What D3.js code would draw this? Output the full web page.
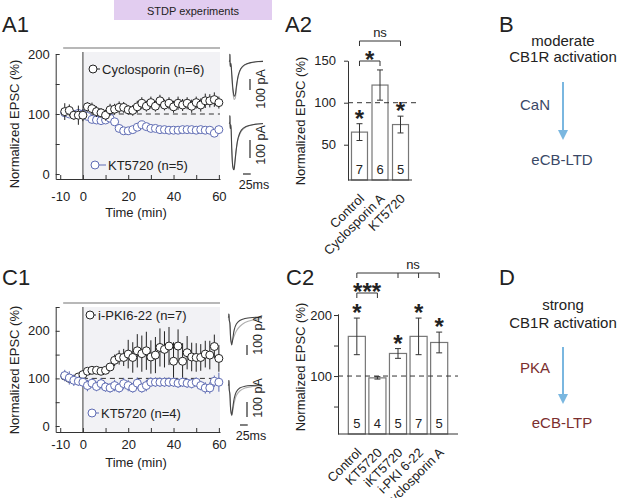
<!DOCTYPE html>
<html>
<head>
<meta charset="utf-8">
<script src="https://cdn.jsdelivr.net/npm/d3@7"></script>
<style>
  body { margin: 0; background: #fff; }
  svg text { font-family: "Liberation Sans", Arial, sans-serif; fill: #222; }
</style>
</head>
<body>
<svg id="fig" width="617" height="498"></svg>
<script>

// ---- data ----
const timeMin = [-8,-6,-4,-2,0,2,4,6,8,10,12,14,16,18,20,22,24,26,28,30,32,34,36,38,40,42,44,46,48,50,52,54,56,58,60];

// A1 time course
const a1Cyclo    = [104,106,98,98,98,112,109,104,102,98,107,108,111,111,107,106,112,118,113,119,113,122,115,118,112,118,115,118,113,119,115,122,122,124,119];
const a1CycloErr = [14,10,8,16,10,8,10,9,8,9,10,9,10,9,8,9,10,10,9,10,9,10,9,10,10,11,10,10,11,10,11,12,11,12,10];
const a1Kt       = [102,100,99,101,100,96,91,90,89,90,93,87,76,72,72,74,78,82,79,76,76,74,74,73,73,73,74,74,74,73,74,73,73,68,74];
const a1KtErr    = [5,4,4,4,4,4,4,5,4,4,4,4,4,4,4,3,4,4,4,3,3,3,3,3,3,3,3,3,3,3,3,3,3,4,4];

// C1 time course
const c1Pki      = [105,100,97,103,108,115,117,117,115,117,124,138,144,144,151,144,158,152,158,145,149,165,161,168,136,168,136,154,145,144,144,151,149,167,142];
const c1PkiErr   = [6,6,6,6,6,6,6,6,6,6,8,12,15,18,30,32,35,38,40,35,38,40,38,40,40,35,38,35,30,30,28,28,30,25,28];
const c1Kt       = [106,101,96,94,92,85,90,83,89,82,80,85,80,89,85,80,90,80,85,92,92,92,92,92,92,90,92,90,89,92,85,80,80,94,92];
const c1KtErr    = [12,14,12,10,10,12,10,10,12,10,10,12,10,12,12,10,12,10,12,10,10,10,10,10,10,10,10,10,10,10,10,12,12,12,20];

const xTicks = [-10,0,10,20,30,40,50,60];
const xTickLabels = [-10,0,20,40,60];

// A2 bars
const a2Cats  = ["Control","Cyclosporin A","KT5720"];
const a2Mean  = [65,121,74];
const a2Err   = [10,18,10];
const a2N     = [7,6,5];
const a2Star  = [true,false,true];

// C2 bars
const c2Cats  = ["Control","KT5720","iKT5720","i-PKI 6-22","Cyclosporin A"];
const c2Mean  = [165,97,137,165,155];
const c2Err   = [30,2,8,30,17];
const c2N     = [5,4,5,7,5];
const c2Star  = [true,false,true,true,true];

// example EPSC traces [ms, pA]
const a1TopBlack = [[0,0],[2,0],[3,60],[4,-50],[6,-20],[9,-120],[13,-260],[17,-320],[20,-310],[24,-230],[30,-130],[38,-70],[50,-35],[70,-15],[95,-5],[110,-3]];
const a1TopGray  = [[0,0],[2,0],[3,60],[4,-50],[6,-20],[9,-140],[13,-290],[17,-350],[20,-340],[24,-250],[30,-140],[38,-75],[50,-38],[70,-16],[95,-6],[110,-3]];
const a1BotBlack = [[0,0],[2,0],[3,40],[4,-30],[6,-10],[9,-150],[13,-250],[16,-260],[19,-220],[24,-140],[30,-80],[40,-40],[55,-20],[80,-8],[110,-3]];
const a1BotGray  = [[0,0],[2,0],[3,40],[4,-30],[6,-10],[9,-140],[13,-240],[16,-250],[19,-215],[24,-140],[30,-85],[40,-45],[55,-22],[80,-9],[110,-4]];
const c1TopBlack = [[0,0],[2,0],[3,30],[4,-30],[6,-60],[9,-230],[12,-280],[15,-230],[20,-130],[27,-70],[38,-35],[55,-15],[80,-5],[110,-2]];
const c1TopGray  = [[0,0],[2,0],[3,30],[4,-30],[6,-60],[9,-220],[12,-260],[15,-230],[20,-190],[27,-140],[38,-95],[55,-55],[80,-30],[110,-15]];
const c1BotBlack = [[0,0],[2,0],[3,30],[4,-30],[6,-60],[9,-170],[12,-200],[15,-160],[20,-90],[27,-45],[38,-20],[55,-8],[80,-3],[110,0]];
const c1BotGray  = [[0,0],[2,0],[3,30],[4,-30],[6,-60],[9,-170],[12,-205],[15,-180],[20,-120],[27,-70],[38,-40],[55,-20],[80,-10],[110,-5]];

const BLUE = "#5f6cb4";
const DARK = "#222";

const svg = d3.select("#fig");

// banner
svg.append("rect").attr("x", 114).attr("y", 0).attr("width", 158).attr("height", 20).attr("fill", "#e2cdf0");
svg.append("text").attr("x", 193).attr("y", 15).attr("text-anchor", "middle")
  .style("font-size", "11px").text("STDP experiments");

// panel letters
[["A1",2,32],["A2",285,32],["B",499,32],["C1",2,285],["C2",286,285],["D",499,285]].forEach(function(p) {
  svg.append("text").attr("x", p[1]).attr("y", p[2]).style("font-size", "22px").text(p[0]);
});

function styleAxis(g) {
  g.selectAll("path,line").attr("stroke", "#333");
  g.selectAll("text").style("font-size", "13px").attr("fill", DARK);
}

function yLabel(x, y) {
  svg.append("text").attr("transform", "translate(" + x + "," + y + ") rotate(-90)")
    .attr("text-anchor", "middle").attr("dy", "0.35em").style("font-size", "13px")
    .text("Normalized EPSC (%)");
}

// ---- time course panels ----
function timePanel(o) {
  const x = d3.scaleLinear().domain([-12, 60.5]).range([55.7, 220]);
  const y = d3.scaleLinear().domain(o.yDom).range(o.yRange);
  const bottom = o.yRange[0];

  svg.append("line").attr("x1", x(-8.7)).attr("x2", x(60.5)).attr("y1", o.barY).attr("y2", o.barY)
    .attr("stroke", "#a0a0a0").attr("stroke-width", 1.5);
  svg.append("rect").attr("x", x(0)).attr("y", o.shadeTop).attr("width", x(60.5) - x(0))
    .attr("height", bottom - o.shadeTop).attr("fill", "#f2f2f5");
  svg.append("line").attr("x1", x(0)).attr("x2", x(0)).attr("y1", o.shadeTop).attr("y2", bottom)
    .attr("stroke", "#666").attr("stroke-width", 1.3);
  svg.append("line").attr("x1", x(0)).attr("x2", x(60.5)).attr("y1", y(100)).attr("y2", y(100))
    .attr("stroke", "#333").attr("stroke-dasharray", "5,4");

  const ya = svg.append("g").attr("transform", "translate(" + x(-12) + ",0)")
    .call(d3.axisLeft(y).tickValues(o.yTicks).tickSize(-4).tickSizeOuter(0).tickPadding(6)
      .tickFormat(function(d) { return o.yLabels.indexOf(d) >= 0 ? d : ""; }));
  styleAxis(ya);
  const xa = svg.append("g").attr("transform", "translate(0," + bottom + ")")
    .call(d3.axisBottom(x).tickValues(xTicks).tickSize(-4).tickSizeOuter(0).tickPadding(o.xPad)
      .tickFormat(function(d) { return xTickLabels.indexOf(d) >= 0 ? d : ""; }));
  styleAxis(xa);

  svg.append("text").attr("x", 136).attr("y", o.timeY).attr("text-anchor", "middle")
    .style("font-size", "13px").text("Time (min)");
  yLabel(14, o.labelY);

  o.series.forEach(function(s) {
    const g = svg.append("g");
    g.selectAll("line").data(s.vals).join("line")
      .attr("x1", function(d, i) { return x(timeMin[i]); })
      .attr("x2", function(d, i) { return x(timeMin[i]); })
      .attr("y1", function(d, i) { return y(d - s.errs[i]); })
      .attr("y2", function(d, i) { return y(d + s.errs[i]); })
      .attr("stroke", s.color).attr("stroke-width", 1);
    g.selectAll("circle").data(s.vals).join("circle")
      .attr("cx", function(d, i) { return x(timeMin[i]); })
      .attr("cy", function(d) { return y(d); })
      .attr("r", 4).attr("fill", "#fff").attr("stroke", s.color).attr("stroke-width", 1);
  });

  o.legend.forEach(function(l) {
    svg.append("line").attr("x1", l.cx).attr("x2", l.tx - 2).attr("y1", l.y).attr("y2", l.y)
      .attr("stroke", l.color);
    svg.append("circle").attr("cx", l.cx).attr("cy", l.y).attr("r", 4)
      .attr("fill", "#fff").attr("stroke", l.color);
    svg.append("text").attr("x", l.tx).attr("y", l.y + 4.5).style("font-size", "13px").text(l.text);
  });
}

timePanel({
  yDom: [-8.3, 200], yRange: [179, 54], yTicks: [0,50,100,150,200], yLabels: [0,100,200],
  barY: 48, shadeTop: 52, xPad: 13, timeY: 217, labelY: 124,
  series: [
    { vals: a1Kt, errs: a1KtErr, color: BLUE },
    { vals: a1Cyclo, errs: a1CycloErr, color: DARK }
  ],
  legend: [
    { cx: 93, tx: 102, y: 69, color: DARK, text: "Cyclosporin (n=6)" },
    { cx: 95, tx: 108, y: 165, color: BLUE, text: "KT5720 (n=5)" }
  ]
});

timePanel({
  yDom: [-12.6, 250], yRange: [432, 307], yTicks: [0,50,100,150,200,250], yLabels: [0,100,200],
  barY: 303, shadeTop: 307, xPad: 8, timeY: 467, labelY: 370,
  series: [
    { vals: c1Pki, errs: c1PkiErr, color: DARK },
    { vals: c1Kt, errs: c1KtErr, color: BLUE }
  ],
  legend: [
    { cx: 90, tx: 98, y: 315, color: DARK, text: "i-PKI6-22 (n=7)" },
    { cx: 92, tx: 101, y: 413, color: BLUE, text: "KT5720 (n=4)" }
  ]
});

// ---- example traces with scale bars ----
function tracePanel(o) {
  const t = d3.scaleLinear().domain([0, 110]).range([o.x0, o.x0 + 34]);
  const amp = d3.scaleLinear().domain([-100, 0]).range([o.y0 + o.px100, o.y0]);
  const line = d3.line().x(function(d) { return t(d[0]); }).y(function(d) { return amp(d[1]); })
    .curve(d3.curveCatmullRom);
  svg.append("path").datum(o.gray).attr("d", line).attr("fill", "none")
    .attr("stroke", "#b0b0b0").attr("stroke-width", 1.1);
  svg.append("path").datum(o.black).attr("d", line).attr("fill", "none")
    .attr("stroke", "#444").attr("stroke-width", 1.1);
  // 100 pA bar
  svg.append("line").attr("x1", o.barX).attr("x2", o.barX).attr("y1", o.barY)
    .attr("y2", o.barY + (amp(-100) - amp(0))).attr("stroke", "#555").attr("stroke-width", 1.5);
  svg.append("text").attr("transform", "translate(" + (o.barX + 11) + "," + o.textY + ") rotate(-90)")
    .attr("text-anchor", "middle").attr("dy", "0.35em").style("font-size", "12.5px").text("100 pA");
  if (o.msY) {
    svg.append("line").attr("x1", o.barX - 7).attr("x2", o.barX - 7 + (t(25) - t(0)))
      .attr("y1", o.msY).attr("y2", o.msY).attr("stroke", "#555").attr("stroke-width", 1.5);
    svg.append("text").attr("x", o.barX + 4).attr("y", o.msY + 15).attr("text-anchor", "middle")
      .style("font-size", "12.5px").text("25ms");
  }
}

tracePanel({ x0: 229, y0: 61, px100: 11, black: a1TopBlack, gray: a1TopGray, barX: 250, barY: 79, textY: 89 });
tracePanel({ x0: 229, y0: 123, px100: 18, black: a1BotBlack, gray: a1BotGray, barX: 250, barY: 140, textY: 145, msY: 174 });
tracePanel({ x0: 228, y0: 317, px100: 10, black: c1TopBlack, gray: c1TopGray, barX: 247, barY: 345, textY: 335 });
tracePanel({ x0: 228, y0: 385, px100: 15, black: c1BotBlack, gray: c1BotGray, barX: 247, barY: 402, textY: 398, msY: 425 });

// ---- bar panels ----
function barPanel(o) {
  const x = d3.scaleBand().domain(o.cats).range(o.xRange).paddingInner(o.pi).paddingOuter(o.po);
  const y = d3.scaleLinear().domain(o.yDom).range(o.yRange);
  const bottom = o.yRange[0];
  const cx = function(d) { return x(d) + x.bandwidth() / 2; };
  const g = svg.append("g");

  g.selectAll("rect").data(o.cats).join("rect")
    .attr("x", function(d) { return x(d); })
    .attr("y", function(d, i) { return y(o.mean[i]); })
    .attr("width", x.bandwidth())
    .attr("height", function(d, i) { return bottom - y(o.mean[i]); })
    .attr("fill", "#fff").attr("stroke", "#777").attr("stroke-width", 1.2);

  g.append("line").attr("x1", o.xRange[0]).attr("x2", o.dashEnd).attr("y1", y(100)).attr("y2", y(100))
    .attr("stroke", "#333").attr("stroke-dasharray", "5,4");

  o.cats.forEach(function(c, i) {
    const lo = y(o.mean[i] - o.err[i]), hi = y(o.mean[i] + o.err[i]);
    g.append("line").attr("x1", cx(c)).attr("x2", cx(c)).attr("y1", lo).attr("y2", hi).attr("stroke", "#333");
    [lo, hi].forEach(function(v) {
      g.append("line").attr("x1", cx(c) - 3).attr("x2", cx(c) + 3).attr("y1", v).attr("y2", v).attr("stroke", "#333");
    });
    g.append("text").attr("x", cx(c)).attr("y", bottom - 6).attr("text-anchor", "middle")
      .style("font-size", "13px").text(o.n[i]);
    if (o.star[i]) {
      g.append("text").attr("x", cx(c)).attr("y", hi - 11 + 14).attr("text-anchor", "middle")
        .style("font-size", "24px").style("font-weight", "bold").text("*");
    }
    g.append("text").attr("transform", "translate(" + (cx(c) - 1) + "," + (bottom + 13) + ") rotate(-45)")
      .attr("text-anchor", "end").attr("dy", "0.7em").style("font-size", "13px").text(c);
  });

  const ya = svg.append("g").attr("transform", "translate(" + o.xRange[0] + ",0)")
    .call(d3.axisLeft(y).tickValues(o.yTicks).tickSize(4).tickSizeOuter(0).tickPadding(o.tp)
      .tickFormat(function(d) { return o.yLabels.indexOf(d) >= 0 ? d : ""; }));
  styleAxis(ya);
  svg.append("line").attr("x1", o.xRange[0]).attr("x2", o.axisEnd).attr("y1", bottom).attr("y2", bottom)
    .attr("stroke", "#333");
  yLabel(300, o.labelY);

  // comparison brackets
  o.brackets.forEach(function(b) {
    const xs = b.cats.map(cx);
    svg.append("line").attr("x1", xs[0]).attr("x2", xs[xs.length - 1]).attr("y1", b.y).attr("y2", b.y)
      .attr("stroke", "#333");
    xs.forEach(function(v) {
      svg.append("line").attr("x1", v).attr("x2", v).attr("y1", b.y).attr("y2", b.y + 5).attr("stroke", "#333");
    });
    const t = svg.append("text").attr("x", b.tx != null ? b.tx : (xs[0] + xs[xs.length - 1]) / 2)
      .attr("text-anchor", "middle").text(b.label);
    if (b.label === "ns") t.attr("y", b.y - 4).style("font-size", "13px");
    else t.attr("y", b.y - 7 + 14).style("font-size", "24px").style("font-weight", "bold");
  });
}

barPanel({
  cats: a2Cats, mean: a2Mean, err: a2Err, n: a2N, star: a2Star,
  xRange: [348, 412], pi: 0.22, po: 0.17, axisEnd: 412, dashEnd: 420,
  yDom: [8, 150], yRange: [180, 60.7], yTicks: [50,100,150], yLabels: [50,100,150], tp: 8,
  labelY: 121,
  brackets: [
    { cats: ["Control","KT5720"], y: 41, label: "ns" },
    { cats: ["Control","Cyclosporin A"], y: 61, label: "*" }
  ]
});

barPanel({
  cats: c2Cats, mean: c2Mean, err: c2Err, n: c2N, star: c2Star,
  xRange: [338, 458], pi: 0.17, po: 0.5, axisEnd: 458, dashEnd: 458,
  yDom: [5, 202], yRange: [434, 313.8], yTicks: [50,100,150,200], yLabels: [100,200], tp: 2,
  labelY: 367,
  brackets: [
    { cats: ["Control","iKT5720","i-PKI 6-22","Cyclosporin A"], y: 273, label: "ns", tx: 413 },
    { cats: ["Control","KT5720"], y: 293, label: "***" }
  ]
});

// ---- schematics B and D ----
function scheme(o) {
  const g = svg.append("g");
  g.append("text").attr("x", 563).attr("y", o.y1).attr("text-anchor", "middle").style("font-size", "15px").text(o.line1);
  g.append("text").attr("x", 563).attr("y", o.y1 + o.gap).attr("text-anchor", "middle").style("font-size", "15px").text("CB1R activation");
  g.append("line").attr("x1", 563).attr("x2", 563).attr("y1", o.a0).attr("y2", o.a1 - 8)
    .attr("stroke", "#7ab7e0").attr("stroke-width", 2);
  g.append("path").attr("d", "M558," + (o.a1 - 10) + " L568," + (o.a1 - 10) + " L563," + o.a1 + " Z")
    .attr("fill", "#7ab7e0");
  g.append("text").attr("x", 535).attr("y", o.ey).attr("text-anchor", "middle").style("font-size", "15px")
    .style("fill", o.color).text(o.enzyme);
  g.append("text").attr("x", 562).attr("y", o.ry).attr("text-anchor", "middle").style("font-size", "15px")
    .style("fill", o.color).text(o.result);
}

scheme({ line1: "moderate", y1: 46, gap: 16, a0: 82, a1: 140, enzyme: "CaN", ey: 110, result: "eCB-LTD", ry: 165, color: "#3a4866" });
scheme({ line1: "strong", y1: 310, gap: 18, a0: 347, a1: 404, enzyme: "PKA", ey: 373, result: "eCB-LTP", ry: 428, color: "#7a2e2e" });

</script>
</body>
</html>
